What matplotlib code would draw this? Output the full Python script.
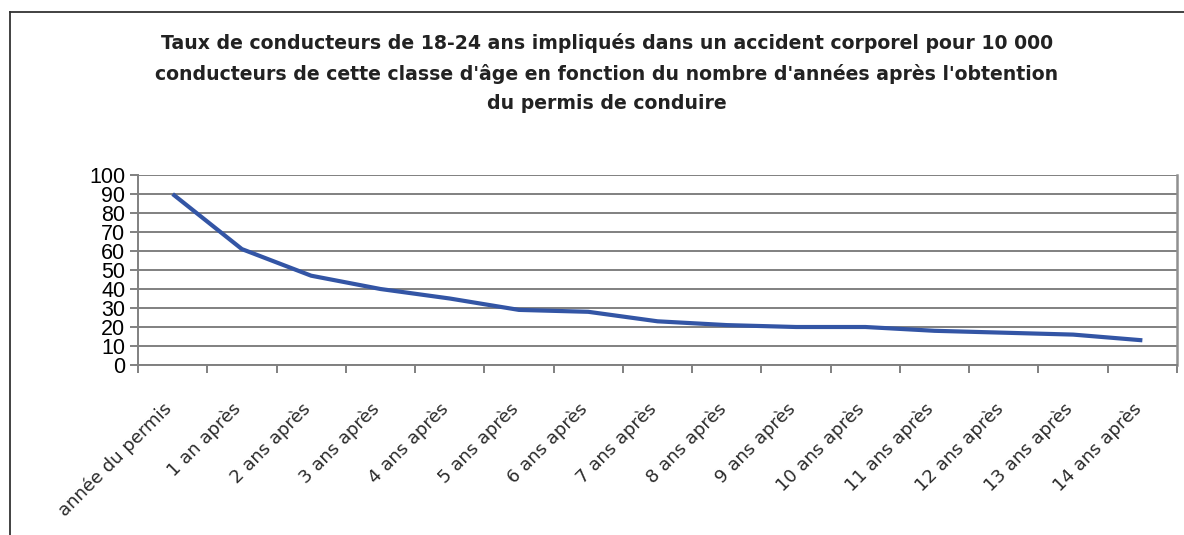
import numpy as np
import matplotlib
matplotlib.use("Agg")
import matplotlib.pyplot as plt
import matplotlib.transforms as mtransforms
from matplotlib.lines import Line2D

# donnees
categories = ["année du permis", "1 an après"] + [f"{i} ans après" for i in range(2, 15)]
taux = [90, 61, 47, 40, 35, 29, 28, 23, 21, 20, 20, 18, 17, 16, 13]
yticks = [0, 10, 20, 30, 40, 50, 60, 70, 80, 90, 100]

title = ("Taux de conducteurs de 18-24 ans impliqués dans un accident corporel pour 10 000\n"
         "conducteurs de cette classe d'âge en fonction du nombre d'années après l'obtention\n"
         "du permis de conduire")

plt.rcParams["font.family"] = ["Liberation Sans", "DejaVu Sans"]

W, H = 1184, 535
fig = plt.figure(figsize=(W / 100, H / 100), dpi=100)
ax = fig.add_axes([138 / W, 1 - 365 / H, (1177 - 138) / W, (365 - 175) / H])

x = np.arange(len(categories))
ax.plot(x, taux, color="#3355a5", lw=3.0, solid_capstyle="butt", zorder=3)

ax.set_xlim(-0.5, len(categories) - 0.5)
ax.set_ylim(0, 100)
ax.set_yticks(yticks)
ax.set_yticklabels([str(v) for v in yticks], fontsize=15.5)
ax.yaxis.grid(True, color="#808080", lw=1.4)
ax.set_axisbelow(True)

ax.set_xticks(x)
ax.set_xticklabels(categories, rotation=45, ha="right", rotation_mode="anchor",
                   fontsize=13, color="#2a2a2a", family="DejaVu Sans")
ax.tick_params(axis="x", which="major", length=0, pad=25)
shift = mtransforms.ScaledTranslation(-10 / 100, 0, fig.dpi_scale_trans)
for lab in ax.get_xticklabels():
    lab.set_transform(lab.get_transform() + shift)
ax.set_xticks(np.arange(-0.5, len(categories)), minor=True)
ax.tick_params(axis="x", which="minor", length=6, width=1.4, color="#808080")
ax.tick_params(axis="y", length=6, width=1.4, color="#808080", pad=3)

for side in ["left", "bottom"]:
    ax.spines[side].set_color("#808080")
    ax.spines[side].set_linewidth(1.4)
ax.spines["right"].set_color("#909090")
ax.spines["right"].set_linewidth(1.8)
ax.spines["top"].set_visible(False)

fig.text(607 / W, 1 - 73 / H, title, ha="center", va="center", fontsize=13.6,
         fontweight="bold", color="#222222", linespacing=1.68, family="DejaVu Sans")

# cadre exterieur
fig.add_artist(Line2D([10 / W, 10 / W], [0, 1 - 12 / H], transform=fig.transFigure,
                      color="#333333", lw=1.3))
fig.add_artist(Line2D([10 / W, 1], [1 - 12 / H, 1 - 12 / H], transform=fig.transFigure,
                      color="#333333", lw=1.3))

fig.savefig("out.png", dpi=100)
